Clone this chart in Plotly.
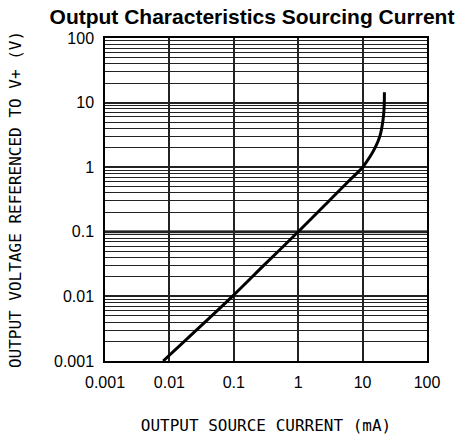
import plotly.graph_objects as go

current_mA = [0.008, 0.03, 0.095, 0.3, 1.0, 3.0, 6.0, 10.0, 13.0, 16.0, 18.5, 20.2, 21.2, 21.7, 21.8]
voltage_V = [0.001, 0.0034, 0.01, 0.031, 0.1, 0.3, 0.6, 1.0, 1.45, 2.1, 3.0, 4.5, 6.5, 9.5, 14.4]
tick_vals = [0.001, 0.01, 0.1, 1, 10, 100]
tick_text = ["0.001", "0.01", "0.1", "1", "10", "100"]

fig = go.Figure()
fig.add_trace(go.Scatter(x=current_mA, y=voltage_V, mode="lines",
                         line=dict(color="black", width=3, shape="spline", smoothing=1.0),
                         showlegend=False, hoverinfo="skip"))

fig.add_shape(type="line", xref="paper", x0=0, x1=1, yref="y", y0=0.1, y1=0.1,
              line=dict(color="#444", width=3), layer="below")

axis_common = dict(type="log", range=[-3, 2], showline=True, linecolor="black", linewidth=1.5,
                   mirror=True, showgrid=True, gridcolor="#222", gridwidth=1.5,
                   tickvals=tick_vals, ticktext=tick_text, ticks="", zeroline=False,
                   automargin=False,
                   tickfont=dict(family="Liberation Sans", size=16, color="black"))

fig.update_xaxes(**axis_common, ticklabelstandoff=6,
                 title=dict(text="OUTPUT SOURCE CURRENT (mA)", standoff=30,
                            font=dict(family="DejaVu Sans Mono", size=16, color="black")))
fig.update_yaxes(**axis_common, ticklabelstandoff=6,
                 minor=dict(showgrid=True, gridcolor="#222", gridwidth=1.2, dtick="D1", ticks=""),
                 title=dict(text="OUTPUT VOLTAGE REFERENCED TO V+ (V)", standoff=28,
                            font=dict(family="DejaVu Sans Mono", size=16, color="black")))

fig.update_layout(
    width=467, height=439,
    margin=dict(l=105, r=40, t=38, b=78),
    paper_bgcolor="white", plot_bgcolor="white",
    title=dict(text="<b>Output Characteristics Sourcing Current</b>", x=252 / 467, xanchor="center",
               y=1 - 17 / 439, yanchor="middle",
               font=dict(family="Liberation Sans", size=21, color="black")),
)

fig.write_html("out.html", config={"displayModeBar": False},
               post_script="document.body.style.margin='0';document.body.style.overflow='hidden';")
